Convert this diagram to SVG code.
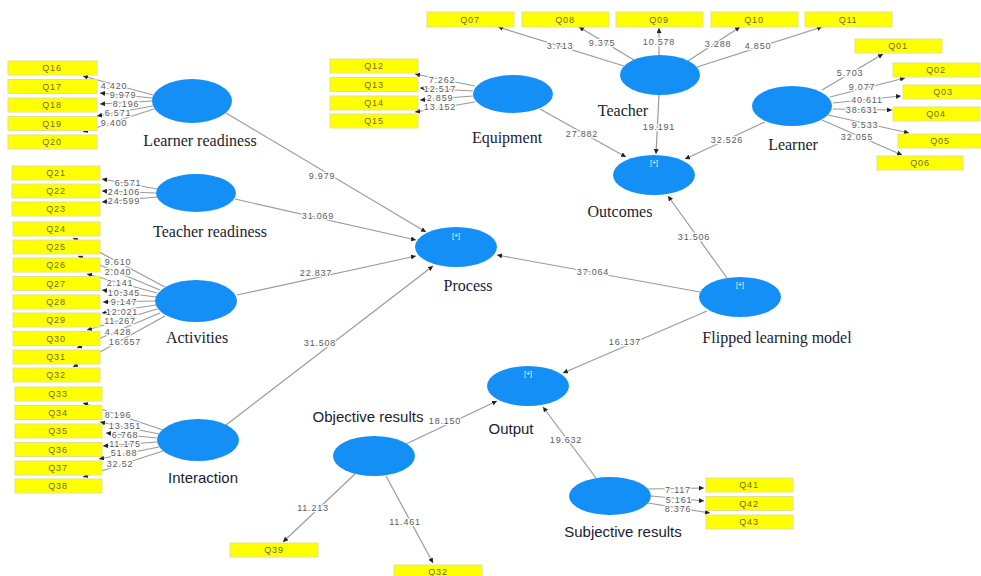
<svg xmlns="http://www.w3.org/2000/svg" width="981" height="576" viewBox="0 0 981 576">
<defs>
<marker id="ah" viewBox="0 0 6 6" refX="6" refY="3" markerWidth="5" markerHeight="5" markerUnits="userSpaceOnUse" orient="auto"><path d="M0,0 L6,3 L0,6 z" fill="#222"/></marker>
<style>
.lv{fill:#148ff6}
.ind{fill:#ffff00;stroke:#e2e28c;stroke-width:1}
.qt{font-family:"Liberation Sans",Arial,sans-serif;font-size:9px;fill:#6b6b3a;text-anchor:middle;dominant-baseline:central;letter-spacing:0.8px}
.lbl{font-family:"Liberation Serif","Times New Roman",serif;font-size:16px;fill:#1b1b2f;text-anchor:middle;dominant-baseline:central}
.lbs{font-family:"Liberation Sans",Arial,sans-serif;font-size:15px;fill:#1b1b2f;text-anchor:middle;dominant-baseline:central}
.num{font-family:"Liberation Sans",Arial,sans-serif;font-size:9px;fill:#5a5a5a;text-anchor:middle;dominant-baseline:central;letter-spacing:0.8px;paint-order:stroke;stroke:#fff;stroke-width:2.5px;stroke-linejoin:round}
.plus{font-family:"Liberation Sans",Arial,sans-serif;font-size:7px;fill:#fff;text-anchor:middle;dominant-baseline:central}
.c{stroke:#9a9a9a;stroke-width:1.2;fill:none;marker-end:url(#ah)}
</style>
</defs>
<rect width="981" height="576" fill="#fff"/>

<g id="connectors">
<line class="c" x1="153" y1="95" x2="83" y2="76"/>
<line class="c" x1="153" y1="98" x2="100" y2="93"/>
<line class="c" x1="152" y1="101" x2="100" y2="104"/>
<line class="c" x1="153" y1="106" x2="97" y2="116"/>
<line class="c" x1="154" y1="109" x2="83" y2="132"/>
<line class="c" x1="157" y1="189" x2="102" y2="179"/>
<line class="c" x1="156" y1="193" x2="102" y2="191"/>
<line class="c" x1="157" y1="197" x2="102" y2="202"/>
<line class="c" x1="165" y1="287" x2="73" y2="238"/>
<line class="c" x1="160" y1="290" x2="78" y2="256"/>
<line class="c" x1="157" y1="293" x2="87" y2="274"/>
<line class="c" x1="156" y1="297" x2="102" y2="290"/>
<line class="c" x1="155" y1="301" x2="103" y2="302"/>
<line class="c" x1="156" y1="305" x2="102" y2="313"/>
<line class="c" x1="157" y1="309" x2="87" y2="330"/>
<line class="c" x1="160" y1="313" x2="77" y2="348"/>
<line class="c" x1="165" y1="316" x2="73" y2="367"/>
<line class="c" x1="163" y1="430" x2="83" y2="403"/>
<line class="c" x1="159" y1="434" x2="100" y2="422"/>
<line class="c" x1="157" y1="438" x2="106" y2="433"/>
<line class="c" x1="157" y1="442" x2="103" y2="446"/>
<line class="c" x1="159" y1="447" x2="99" y2="459"/>
<line class="c" x1="163" y1="451" x2="83" y2="477"/>
<line class="c" x1="624" y1="66" x2="498" y2="27"/>
<line class="c" x1="634" y1="60" x2="579" y2="27"/>
<line class="c" x1="659" y1="55" x2="659" y2="28"/>
<line class="c" x1="688" y1="61" x2="740" y2="27"/>
<line class="c" x1="697" y1="67" x2="822" y2="27"/>
<line class="c" x1="475" y1="86" x2="415" y2="74"/>
<line class="c" x1="473" y1="91" x2="420" y2="88"/>
<line class="c" x1="473" y1="96" x2="420" y2="100"/>
<line class="c" x1="475" y1="102" x2="415" y2="112"/>
<line class="c" x1="822" y1="90" x2="883" y2="54"/>
<line class="c" x1="830" y1="97" x2="905" y2="78"/>
<line class="c" x1="833" y1="103" x2="901" y2="96"/>
<line class="c" x1="833" y1="109" x2="892" y2="110"/>
<line class="c" x1="828" y1="115" x2="909" y2="133"/>
<line class="c" x1="822" y1="120" x2="902" y2="155"/>
<line class="c" x1="648" y1="489" x2="704" y2="488"/>
<line class="c" x1="651" y1="496" x2="704" y2="501"/>
<line class="c" x1="648" y1="503" x2="710" y2="513"/>
<line class="c" x1="355" y1="474" x2="283" y2="542"/>
<line class="c" x1="386" y1="476" x2="433" y2="563"/>
<line class="c" x1="226" y1="113" x2="426" y2="232"/>
<line class="c" x1="235" y1="199" x2="416" y2="240"/>
<line class="c" x1="237" y1="295" x2="416" y2="256"/>
<line class="c" x1="226" y1="425" x2="433" y2="266"/>
<line class="c" x1="700" y1="292" x2="497" y2="255"/>
<line class="c" x1="727" y1="278" x2="668" y2="196"/>
<line class="c" x1="707" y1="311" x2="563" y2="373"/>
<line class="c" x1="540" y1="109" x2="626" y2="157"/>
<line class="c" x1="659" y1="95" x2="656" y2="154"/>
<line class="c" x1="765" y1="122" x2="685" y2="159"/>
<line class="c" x1="406" y1="444" x2="497" y2="401"/>
<line class="c" x1="596" y1="478" x2="543" y2="407"/>
<text class="num" x="114" y="86">4.420</text>
<text class="num" x="123" y="95">9.979</text>
<text class="num" x="126" y="104">8.196</text>
<text class="num" x="118" y="113">6.571</text>
<text class="num" x="114" y="123">9.400</text>
<text class="num" x="128" y="183">6.571</text>
<text class="num" x="124" y="192">24.106</text>
<text class="num" x="124" y="201">24.599</text>
<text class="num" x="118" y="262">9.610</text>
<text class="num" x="118" y="272">2.040</text>
<text class="num" x="120" y="283">2.141</text>
<text class="num" x="124" y="293">10.345</text>
<text class="num" x="124" y="302">9.147</text>
<text class="num" x="122" y="312">12.021</text>
<text class="num" x="120" y="321">11.267</text>
<text class="num" x="118" y="332">4.428</text>
<text class="num" x="125" y="342">16.657</text>
<text class="num" x="118" y="415">8.196</text>
<text class="num" x="125" y="426">13.351</text>
<text class="num" x="125" y="435">6.768</text>
<text class="num" x="125" y="444">11.175</text>
<text class="num" x="124" y="453">51.88</text>
<text class="num" x="120" y="464">32.52</text>
<text class="num" x="560" y="46">3.713</text>
<text class="num" x="602" y="43">9.375</text>
<text class="num" x="659" y="42">10.578</text>
<text class="num" x="718" y="44">3.288</text>
<text class="num" x="758" y="46">4.850</text>
<text class="num" x="442" y="80">7.262</text>
<text class="num" x="440" y="89">12.517</text>
<text class="num" x="440" y="98">2.859</text>
<text class="num" x="440" y="107">13.152</text>
<text class="num" x="850" y="73">5.703</text>
<text class="num" x="862" y="87">9.077</text>
<text class="num" x="867" y="100">40.611</text>
<text class="num" x="862" y="110">38.631</text>
<text class="num" x="865" y="125">9.533</text>
<text class="num" x="857" y="137">32.055</text>
<text class="num" x="678" y="490">7.117</text>
<text class="num" x="679" y="500">5.161</text>
<text class="num" x="678" y="509">8.376</text>
<text class="num" x="313" y="508">11.213</text>
<text class="num" x="405" y="522">11.461</text>
<text class="num" x="322" y="176">9.979</text>
<text class="num" x="318" y="216">31.069</text>
<text class="num" x="316" y="273">22.837</text>
<text class="num" x="320" y="343">31.508</text>
<text class="num" x="593" y="272">37.064</text>
<text class="num" x="694" y="237">31.506</text>
<text class="num" x="625" y="342">16.137</text>
<text class="num" x="582" y="134">27.882</text>
<text class="num" x="659" y="127">19.191</text>
<text class="num" x="727" y="140">32.526</text>
<text class="num" x="445" y="421">18.150</text>
<text class="num" x="566" y="440">19.632</text>
</g>

<g id="n-learner-readiness">
<ellipse class="lv" cx="192" cy="101" rx="40" ry="22"/>
<text class="lbl" x="200" y="140">Learner readiness</text>
<rect class="ind" x="8" y="61" width="89" height="14"/><text class="qt" x="52" y="68">Q16</text>
<rect class="ind" x="8" y="79.5" width="89" height="14"/><text class="qt" x="52" y="86.5">Q17</text>
<rect class="ind" x="8" y="98" width="89" height="14"/><text class="qt" x="52" y="105">Q18</text>
<rect class="ind" x="8" y="116.5" width="89" height="14"/><text class="qt" x="52" y="123.5">Q19</text>
<rect class="ind" x="8" y="135" width="89" height="14"/><text class="qt" x="52" y="142">Q20</text>
</g>

<g id="n-teacher-readiness">
<ellipse class="lv" cx="196" cy="193" rx="40" ry="19"/>
<text class="lbl" x="210" y="231">Teacher readiness</text>
<rect class="ind" x="12" y="166" width="88" height="14"/><text class="qt" x="56" y="173">Q21</text>
<rect class="ind" x="12" y="184" width="88" height="14"/><text class="qt" x="56" y="191">Q22</text>
<rect class="ind" x="12" y="202" width="88" height="14"/><text class="qt" x="56" y="209">Q23</text>
</g>

<g id="n-activities">
<ellipse class="lv" cx="196" cy="301" rx="41" ry="21"/>
<text class="lbl" x="197" y="337">Activities</text>
<rect class="ind" x="13" y="222" width="87" height="14"/><text class="qt" x="56" y="229">Q24</text>
<rect class="ind" x="13" y="240" width="87" height="14"/><text class="qt" x="56" y="247">Q25</text>
<rect class="ind" x="13" y="258" width="87" height="14"/><text class="qt" x="56" y="265">Q26</text>
<rect class="ind" x="13" y="276.5" width="87" height="14"/><text class="qt" x="56" y="283.5">Q27</text>
<rect class="ind" x="13" y="295" width="87" height="14"/><text class="qt" x="56" y="302">Q28</text>
<rect class="ind" x="13" y="313" width="87" height="14"/><text class="qt" x="56" y="320">Q29</text>
<rect class="ind" x="13" y="331.5" width="87" height="14"/><text class="qt" x="56" y="338.5">Q30</text>
<rect class="ind" x="13" y="350" width="87" height="14"/><text class="qt" x="56" y="357">Q31</text>
<rect class="ind" x="13" y="368" width="87" height="14"/><text class="qt" x="56" y="375">Q32</text>
</g>

<g id="n-interaction">
<ellipse class="lv" cx="198" cy="440" rx="41" ry="21"/>
<text class="lbs" x="203" y="477">Interaction</text>
<rect class="ind" x="15" y="387" width="87" height="14"/><text class="qt" x="58" y="394">Q33</text>
<rect class="ind" x="15" y="405.5" width="87" height="14"/><text class="qt" x="58" y="412.5">Q34</text>
<rect class="ind" x="15" y="424" width="87" height="14"/><text class="qt" x="58" y="431">Q35</text>
<rect class="ind" x="15" y="442.5" width="87" height="14"/><text class="qt" x="58" y="449.5">Q36</text>
<rect class="ind" x="15" y="461" width="87" height="14"/><text class="qt" x="58" y="468">Q37</text>
<rect class="ind" x="15" y="479" width="87" height="14"/><text class="qt" x="58" y="486">Q38</text>
</g>

<g id="n-teacher">
<ellipse class="lv" cx="660" cy="75" rx="40" ry="20"/>
<text class="lbl" x="623" y="110">Teacher</text>
<rect class="ind" x="427" y="12" width="87" height="15"/><text class="qt" x="470" y="19.5">Q07</text>
<rect class="ind" x="522" y="12" width="87" height="15"/><text class="qt" x="565" y="19.5">Q08</text>
<rect class="ind" x="616" y="12" width="87" height="15"/><text class="qt" x="659" y="19.5">Q09</text>
<rect class="ind" x="711" y="12" width="87" height="15"/><text class="qt" x="754" y="19.5">Q10</text>
<rect class="ind" x="805" y="12" width="87" height="15"/><text class="qt" x="848" y="19.5">Q11</text>
</g>

<g id="n-equipment">
<ellipse class="lv" cx="513" cy="94" rx="40" ry="19"/>
<text class="lbl" x="507" y="137">Equipment</text>
<rect class="ind" x="330" y="59" width="88" height="14"/><text class="qt" x="374" y="66">Q12</text>
<rect class="ind" x="330" y="77.5" width="88" height="14"/><text class="qt" x="374" y="84.5">Q13</text>
<rect class="ind" x="330" y="96" width="88" height="14"/><text class="qt" x="374" y="103">Q14</text>
<rect class="ind" x="330" y="114" width="88" height="14"/><text class="qt" x="374" y="121">Q15</text>
</g>

<g id="n-learner">
<ellipse class="lv" cx="792" cy="106" rx="40" ry="20"/>
<text class="lbl" x="793" y="144">Learner</text>
<rect class="ind" x="855" y="39" width="87" height="14"/><text class="qt" x="898" y="46">Q01</text>
<rect class="ind" x="893" y="63" width="87" height="14"/><text class="qt" x="936" y="70">Q02</text>
<rect class="ind" x="903" y="85" width="80" height="14"/><text class="qt" x="943" y="92">Q03</text>
<rect class="ind" x="893" y="107" width="87" height="14"/><text class="qt" x="936" y="114">Q04</text>
<rect class="ind" x="898" y="134" width="84" height="14"/><text class="qt" x="940" y="141">Q05</text>
<rect class="ind" x="877" y="156" width="86" height="14"/><text class="qt" x="920" y="163">Q06</text>
</g>

<g id="n-outcomes">
<ellipse class="lv" cx="654" cy="175" rx="41" ry="20"/>
<text class="plus" x="654" y="162">[+]</text>
<text class="lbl" x="620" y="211">Outcomes</text>
</g>

<g id="n-process">
<ellipse class="lv" cx="456" cy="247" rx="41" ry="20"/>
<text class="plus" x="456" y="235">[+]</text>
<text class="lbl" x="468" y="285">Process</text>
</g>

<g id="n-flipped">
<ellipse class="lv" cx="740" cy="297" rx="41" ry="20"/>
<text class="plus" x="740" y="284">[+]</text>
<text class="lbl" x="777" y="337">Flipped learning model</text>
</g>

<g id="n-output">
<ellipse class="lv" cx="528" cy="386" rx="41" ry="20"/>
<text class="plus" x="528" y="373">[+]</text>
<text class="lbs" x="511" y="428">Output</text>
</g>

<g id="n-objective">
<ellipse class="lv" cx="374" cy="456" rx="41" ry="20"/>
<text class="lbs" x="368" y="416">Objective results</text>
<rect class="ind" x="230" y="543" width="88" height="14"/><text class="qt" x="274" y="550">Q39</text>
<rect class="ind" x="394" y="565" width="88" height="14"/><text class="qt" x="438" y="572">Q32</text>
</g>

<g id="n-subjective">
<ellipse class="lv" cx="610" cy="496" rx="41" ry="19"/>
<text class="lbs" x="623" y="531">Subjective results</text>
<rect class="ind" x="706" y="478" width="87" height="14"/><text class="qt" x="749" y="485">Q41</text>
<rect class="ind" x="706" y="496.5" width="87" height="14"/><text class="qt" x="749" y="503.5">Q42</text>
<rect class="ind" x="706" y="515" width="87" height="14"/><text class="qt" x="749" y="522">Q43</text>
</g>
</svg>
